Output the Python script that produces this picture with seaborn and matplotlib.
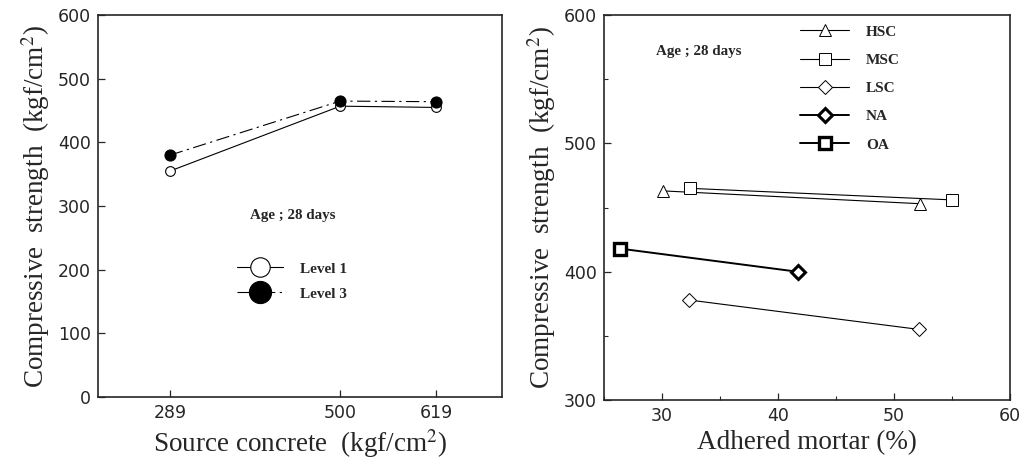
import numpy as np
import pandas as pd
import matplotlib
matplotlib.use('Agg')
import matplotlib.pyplot as plt
from matplotlib.ticker import MultipleLocator
import seaborn as sns

# ---- data ----
source_strength = [289, 500, 619]
level1_strength = [355, 457, 455]
level3_strength = [380, 465, 464]

hsc_mortar = [30.1, 52.3]
hsc_strength = [463, 453]
msc_mortar = [32.4, 55.0]
msc_strength = [465, 456]
lsc_mortar = [32.3, 52.2]
lsc_strength = [378, 355]
na_mortar = [41.7]
na_strength = [400]
oa_mortar = [26.4]
oa_strength = [418]

sns.set_style('ticks')
plt.rcParams['font.family'] = ['Liberation Serif', 'DejaVu Serif']
plt.rcParams['mathtext.fontset'] = 'stix'
plt.rcParams['xtick.direction'] = 'in'
plt.rcParams['ytick.direction'] = 'in'

fig = plt.figure(figsize=(10.22, 4.59), dpi=100)
ax1 = fig.add_axes([0.0959, 0.135, 0.395, 0.832])
ax2 = fig.add_axes([0.591, 0.1285, 0.397, 0.8385])

tick_font = {'family': 'DejaVu Sans', 'size': 12.5}
ylab = 'Compressive  strength  (kgf/cm$^2$)'

# ---- left panel ----
df_left = pd.DataFrame({'x': source_strength, 'l1': level1_strength, 'l3': level3_strength})
sns.lineplot(data=df_left, x='x', y='l1', ax=ax1, color='black', lw=0.8,
             marker='o', markersize=7, markerfacecolor='white', markeredgecolor='black',
             markeredgewidth=0.8, label='Level 1')
sns.lineplot(data=df_left, x='x', y='l3', ax=ax1, color='black', lw=0.8,
             marker='o', markersize=8, markerfacecolor='black', markeredgecolor='black',
             dashes=(12, 4, 2, 4), label='Level 3')
ax1.set_xlim(200, 700)
ax1.set_ylim(0, 600)
ax1.set_xticks(source_strength)
ax1.set_yticks(np.arange(0, 601, 100))
ax1.set_xlabel('Source concrete  (kgf/cm$^2$)', fontsize=19.5)
ax1.set_ylabel(ylab, fontsize=19.5, labelpad=4)
ax1.text(388, 280, 'Age ; 28 days', fontsize=10.8, fontweight='bold')
leg1 = ax1.legend(loc='upper left', bbox_to_anchor=(0.31, 0.39), frameon=False,
                  fontsize=11, markerscale=2.0, handlelength=3.0, labelspacing=0.75,
                  handletextpad=1.1)
for t in leg1.get_texts():
    t.set_fontweight('bold')

# ---- right panel ----
series = [
    ('HSC', hsc_mortar, hsc_strength, '^', 0.8, 8),
    ('MSC', msc_mortar, msc_strength, 's', 0.8, 8),
    ('LSC', lsc_mortar, lsc_strength, 'D', 0.8, 7),
]
for name, xs, ys, mk, lw, ms in series:
    sns.lineplot(x=xs, y=ys, ax=ax2, color='black', lw=lw, marker=mk, markersize=ms,
                 markerfacecolor='white', markeredgecolor='black', markeredgewidth=0.7,
                 label=name)
# OA and NA joined by one thick line
sns.lineplot(x=oa_mortar + na_mortar, y=oa_strength + na_strength, ax=ax2,
             color='black', lw=1.4, legend=False)
sns.lineplot(x=na_mortar, y=na_strength, ax=ax2, color='black', lw=1.4, marker='D',
             markersize=7, markerfacecolor='white', markeredgecolor='black',
             markeredgewidth=2.2, label='NA')
sns.lineplot(x=oa_mortar, y=oa_strength, ax=ax2, color='black', lw=1.4, marker='s',
             markersize=8, markerfacecolor='white', markeredgecolor='black',
             markeredgewidth=2.4, label='OA')
ax2.set_xlim(25, 60)
ax2.set_ylim(300, 600)
ax2.xaxis.set_major_locator(MultipleLocator(10))
ax2.xaxis.set_minor_locator(MultipleLocator(5))
ax2.yaxis.set_major_locator(MultipleLocator(100))
ax2.yaxis.set_minor_locator(MultipleLocator(50))
ax2.set_xlabel('Adhered mortar (%)', fontsize=19.5)
ax2.set_ylabel(ylab, fontsize=19.5, labelpad=4)
ax2.text(29.5, 569, 'Age ; 28 days', fontsize=10.8, fontweight='bold')
leg2 = ax2.legend(loc='upper left', bbox_to_anchor=(0.45, 1.01), frameon=False,
                  fontsize=11, handlelength=3.2, labelspacing=0.95, handletextpad=1.1)
for t in leg2.get_texts():
    t.set_fontweight('bold')

for ax in (ax1, ax2):
    for sp in ax.spines.values():
        sp.set_linewidth(1.2)
        sp.set_visible(True)
    ax.tick_params(which='major', length=5, width=0.9, top=False, right=False, pad=5)
    ax.tick_params(which='minor', length=3, width=0.8, top=False, right=False)
    for lab in ax.get_xticklabels() + ax.get_yticklabels():
        lab.set_fontfamily(tick_font['family'])
        lab.set_fontsize(tick_font['size'])

fig.savefig('out.png', dpi=100)
